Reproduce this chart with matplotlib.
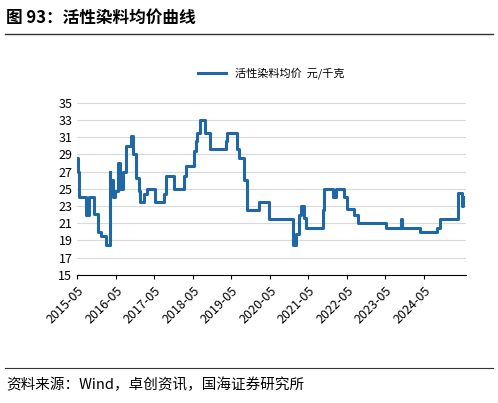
import matplotlib.pyplot as plt

plt.rcParams['font.family'] = ['Noto Sans CJK SC', 'DejaVu Sans']

# months since 2015-05 and price (元/千克)
months = [0, 0.2, 0.5, 2.9, 3.6, 5.2, 6.4, 7.4, 9.1, 10.1, 10.3, 11.3, 11.9, 12.6, 13.2,
          14.4, 15.3, 16.7, 17.3, 18.4, 19.3, 19.6, 20.8, 21.6, 24.2, 27, 27.6, 30.1,
          33.2, 33.8, 36.4, 36.9, 37.3, 38.1, 39.9, 41.4, 46.2, 46.6, 49.8, 50.5, 52.1,
          52.8, 56.7, 59.6, 67.2, 68.2, 69.1, 69.7, 70.7, 71.3, 76.5, 76.8, 79.7, 80.7,
          83, 84.2, 86.3, 87.4, 96.2, 100.8, 101.2, 106.7, 112.1, 113.1, 118.6, 119.8, 120.1]
prices = [28.6, 27, 24, 21.9, 24, 22.1, 20.0, 19.5, 18.5, 27, 26, 24, 24.7, 28, 25,
          27, 30, 31.1, 29, 26.3, 24.7, 23.5, 24.4, 25, 23.5, 24.4, 26.5, 25,
          26.5, 27.6, 29.4, 30.5, 31.5, 33, 31.5, 29.6, 30.5, 31.5, 29.6, 28.6, 26,
          22.5, 23.5, 21.5, 18.5, 19.7, 22, 23, 21.6, 20.5, 22.5, 25, 24, 25,
          24, 22.6, 22, 21, 20.5, 21.5, 20.5, 20, 20.5, 21.5, 24.5, 23, 24]
tick_labels = ['2015-05', '2016-05', '2017-05', '2018-05', '2019-05', '2020-05',
               '2021-05', '2022-05', '2023-05', '2024-05']

fig = plt.figure(figsize=(4.98, 4.03), dpi=100)
fig.text(0.012, 0.955, '图 93：活性染料均价曲线', fontsize=12, fontweight='bold', va='center')
fig.add_artist(plt.Line2D([0.01, 0.99], [0.915, 0.915], color='#333333', lw=1))
fig.add_artist(plt.Line2D([0.01, 0.99], [0.088, 0.088], color='#333333', lw=0.8))
fig.text(0.012, 0.045, '资料来源：Wind，卓创资讯，国海证券研究所', fontsize=10.5, va='center')

ax = fig.add_axes([0.155, 0.318, 0.78, 0.427])
ax.step(months, prices, where='post', color='#1f67a6', lw=2.2, label='活性染料均价  元/千克')
ax.set_ylim(15, 35)
ax.set_yticks(range(15, 36, 2))
ax.set_xlim(0, 121)
ax.set_xticks([12 * i for i in range(len(tick_labels))])
ax.set_xticklabels(tick_labels, rotation=45, ha='right', rotation_mode='anchor')
ax.tick_params(labelsize=9, length=3)
ax.tick_params(axis='y', length=0)
ax.grid(axis='y', color='#d9d9d9', lw=0.8)
for s in ['top', 'right', 'left']:
    ax.spines[s].set_visible(False)
ax.legend(loc='lower center', bbox_to_anchor=(0.5, 1.08), frameon=False, fontsize=8,
          handlelength=2.5)

fig.savefig('out.png')
